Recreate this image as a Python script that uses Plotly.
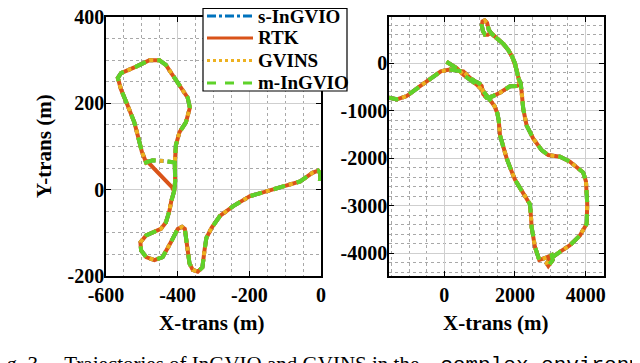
# trajectories of InGVIO and GVINS, complex environment (two sequences)
import plotly.graph_objects as go

# ---- sequence 1 (left panel), metres ----
# estimators (s-InGVIO, GVINS, m-InGVIO) follow the same road
est1_x = [-3, -2, -8, -16, -24, -58, -105, -151, -198, -245, -282, -305, -320, -325, -327, -331,
          -344, -358, -367, -372, -377, -380, -388, -400, -419, -442, -465, -488, -502, -504, -488,
          -470, -447, -433, -423, -418, -410, -407, -408, -405, -395, -377, -366, -372, -390, -405,
          -433, -451, -479, -516, -558, -567, -558, -539, -521, -509, -500, -488, -470, -437, -408,
          -407, -410]
est1_y = [20, 38, 44, 42, 39, 19, 8, -2, -15, -38, -61, -88, -112, -140, -160, -180,
          -190, -186, -171, -133, -106, -91, -86, -91, -122, -156, -163, -156, -141, -122, -106,
          -99, -91, -76, -49, -27, -4, 19, 61, 103, 133, 156, 190, 213, 235, 255,
          289, 300, 300, 285, 270, 259, 232, 194, 156, 118, 88, 63, 68, 66, 63,
          19, -4]
# RTK cuts diagonally back to the road instead of the short eastward leg
rtk1_x = est1_x[:58] + [-484, -465, -445, -428, -416, -410]
rtk1_y = est1_y[:58] + [65, 48, 32, 18, 6, -4]

# ---- sequence 2 (right panel), metres ----
seq2_x = [60, 351, 538, 727, 917, 1103, 1293, 1420, 1500, 1540, 1576, 1669, 1765, 1906, 2000,
          2141, 2331, 2425, 2450, 2472, 2566, 2688, 2897, 3038, 3067, 2943, 2897, 2990, 3273,
          3556, 3839, 4028, 4046, 4009, 3932, 3839, 3556, 3273, 2942, 2755, 2518, 2331, 2235,
          2190, 2161, 2113, 2000, 1900, 1800, 1650, 1450, 1300, 1230, 1150, 1090, 1060, 1080,
          1140, 1210, 1250, 1260, 1330, 1500, 1680, 1811, 1930, 2030, 2094, 2141, 2050, 1859,
          1576, 1350, 1199, 1100, 1058, 980, 869, 727, 538, 351, 150, -100, -311, -687, -1064,
          -1347, -1566]
seq2_y = [30, -104, -242, -345, -449, -587, -759, -900, -1050, -1200, -1518, -1794, -2001,
          -2277, -2449, -2622, -2830, -2967, -3200, -3451, -3865, -4140, -4085, -4036, -4140,
          -4264, -4209, -4120, -3967, -3830, -3623, -3381, -2967, -2484, -2300, -2242, -2070,
          -1967, -1932, -1828, -1587, -1311, -966, -621, -414, -345, 0, 170, 290, 420, 540,
          640, 600, 600, 680, 800, 880, 900, 850, 760, 700, 630, 520, 400, 276, 120, -100,
          -276, -450, -480, -483, -621, -700, -725, -650, -480, -420, -379, -310, -172, -160,
          -130, -170, -276, -483, -690, -759, -725]

names = ["s-InGVIO", "RTK", "GVINS", "m-InGVIO"]
colors = ["#0072BD", "#D95319", "#EDB120", "#5FD22A"]
dashes = ["dashdot", "solid", "dot", "dash"]

left_xticks = [-600, -400, -200, 0]
left_yticks = [-200, 0, 200, 400]
right_xticks = [0, 2000, 4000]
right_yticks = [-4000, -3000, -2000, -1000, 0]

W, H = 640, 363
OFF = 8  # the page body adds an 8 px margin, so positions below are pulled back by it


def px(x):
    return (x - OFF) / W


def py(y):
    return 1 - (y - OFF) / H


fig = go.Figure()

left_data = [(est1_x, est1_y), (rtk1_x, rtk1_y), (est1_x, est1_y), (est1_x, est1_y)]
for i, (xs, ys) in enumerate(left_data):
    fig.add_trace(go.Scatter(x=xs, y=ys, mode="lines", name=names[i],
                             line=dict(color=colors[i], dash=dashes[i], width=4),
                             xaxis="x", yaxis="y", showlegend=False))
for i in range(4):
    fig.add_trace(go.Scatter(x=seq2_x, y=seq2_y, mode="lines", name=names[i],
                             line=dict(color=colors[i], dash=dashes[i], width=4),
                             xaxis="x2", yaxis="y2", showlegend=False))

tickfont = dict(family="Liberation Serif", size=20, color="black", weight="bold")


def ax(rng, dom, ticks, minor, anchor, standoff):
    return dict(range=rng, domain=dom, tickvals=ticks, ticktext=[str(t) for t in ticks],
                showline=True, linecolor="black", linewidth=1.6, mirror="ticks",
                ticks="inside", ticklen=5, tickcolor="black", tickwidth=1.2,
                showgrid=True, gridcolor="#cfcfcf", gridwidth=1, zeroline=False,
                minor=dict(dtick=minor, showgrid=True, griddash="dot", gridcolor="#a8a8a8", gridwidth=1),
                tickfont=tickfont, anchor=anchor, automargin=False, ticklabelstandoff=standoff,
                ticklabeloverflow="allow")


TOP = 17  # panel top (screen px); kept a little lower so the "400" label is not clipped
fig.update_layout(
    width=W, height=H, margin=dict(l=0, r=0, t=0, b=0),
    paper_bgcolor="white", plot_bgcolor="white", template="none", showlegend=False,
    xaxis=ax([-600, 0], [px(106), px(321)], left_xticks, 50, "y", 0),
    yaxis=ax([-200, 400], [py(276), py(TOP)], left_yticks, 50, "x", -4),
    xaxis2=ax([-1566, 4520], [px(389), px(604)], right_xticks, 500, "y2", 0),
    yaxis2=ax([-4476, 973], [py(276), py(TOP)], right_yticks, 200, "x2", -4),
)

# legend box drawn in the upper corner of the left panel
fig.add_shape(type="rect", xref="paper", yref="paper", x0=px(203), x1=px(347), y0=py(8.5), y1=py(91),
              line=dict(color="black", width=1.2), fillcolor="white", layer="above")
legend_y = [16, 38, 60.5, 83]
for i in range(4):
    fig.add_shape(type="line", xref="paper", yref="paper", x0=px(207), x1=px(253),
                  y0=py(legend_y[i]), y1=py(legend_y[i]),
                  line=dict(color=colors[i], dash=dashes[i], width=3), layer="above")
    fig.add_annotation(text=names[i], x=px(256), y=py(legend_y[i]), xref="paper", yref="paper",
                       showarrow=False, xanchor="left", yanchor="middle",
                       font=dict(family="Liberation Serif", size=19, color="black", weight="bold"))

title_font = dict(family="Liberation Serif", size=21, color="black", weight="bold")
fig.add_annotation(text="X-trans (m)", x=px(212), y=py(323), xref="paper", yref="paper",
                   showarrow=False, font=title_font, xanchor="center", yanchor="middle")
fig.add_annotation(text="X-trans (m)", x=px(496), y=py(323), xref="paper", yref="paper",
                   showarrow=False, font=title_font, xanchor="center", yanchor="middle")
fig.add_annotation(text="Y-trans (m)", x=px(44), y=py(146), xref="paper", yref="paper",
                   showarrow=False, font=title_font, textangle=-90, xanchor="center", yanchor="middle")

# figure caption, cut off by the image border
fig.add_annotation(
    text="Fig. 3.&nbsp;&nbsp;&nbsp;&nbsp;Trajectories of InGVIO and GVINS in the&nbsp;&nbsp;&nbsp; "
         "<span style='font-family:Liberation Mono'>complex environment</span>",
    x=px(-13), y=py(350), xref="paper", yref="paper", showarrow=False,
    xanchor="left", yanchor="top",
    font=dict(family="Liberation Serif", size=21, color="black"))

fig.write_html("out.html")
